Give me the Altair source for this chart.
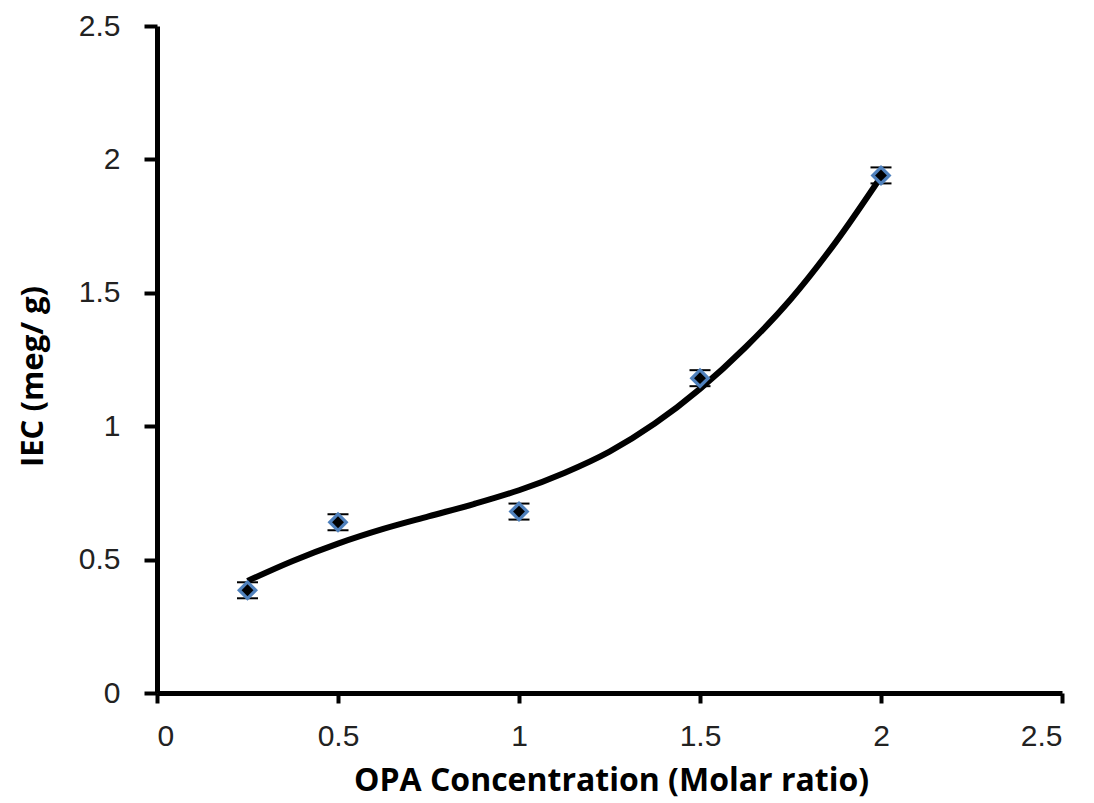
import altair as alt
import pandas as pd

# measured points
conc = [0.25, 0.5, 1.0, 1.5, 2.0]
iec = [0.385, 0.64, 0.68, 1.18, 1.94]
err = [0.03, 0.03, 0.03, 0.03, 0.03]

# trendline
trend_x = [0.25, 0.375, 0.5, 0.625, 0.75, 0.875, 1.0, 1.125, 1.25, 1.375, 1.5, 1.625, 1.75, 1.875, 2.0]
trend_y = [0.42, 0.495, 0.56, 0.615, 0.662, 0.708, 0.76, 0.825, 0.905, 1.01, 1.14, 1.295, 1.475, 1.69, 1.935]

pts = pd.DataFrame({"x": conc, "y": iec, "e": err})
pts["lo"] = pts["y"] - pts["e"]
pts["hi"] = pts["y"] + pts["e"]
trend = pd.DataFrame({"x": trend_x, "y": trend_y})

xs = alt.Scale(domain=[0, 2.5], nice=False, zero=False)
ys = alt.Scale(domain=[0, 2.5], nice=False, zero=False)

xax = alt.Axis(values=[0, 0.5, 1, 1.5, 2, 2.5], format="~g", grid=False,
               title="OPA Concentration (Molar ratio)", tickSize=10,
               labelPadding=18, titleX=454, titleY=97, titleAlign="center",
               titleBaseline="alphabetic", titleAnchor="start", titleFontSize=32)
yax = alt.Axis(values=[0, 0.5, 1, 1.5, 2, 2.5], format="~g", grid=False,
               title="IEC (meg/ g)", tickSize=13, labelPadding=24,
               titleX=-124, titleY=350, titleAlign="center", titleBaseline="middle",
               titleAnchor="start", titleFontSize=31)

base = alt.Chart(pts)

line = alt.Chart(trend).mark_line(color="black", strokeWidth=6, interpolate="monotone").encode(
    x=alt.X("x:Q", scale=xs, axis=xax),
    y=alt.Y("y:Q", scale=ys, axis=yax),
)

rules = base.mark_rule(color="black", strokeWidth=2).encode(
    x=alt.X("x:Q", scale=xs), y=alt.Y("lo:Q", scale=ys), y2="hi:Q")
cap_lo = base.mark_tick(color="black", thickness=2, size=21, orient="horizontal", opacity=1).encode(
    x=alt.X("x:Q", scale=xs), y=alt.Y("lo:Q", scale=ys))
cap_hi = base.mark_tick(color="black", thickness=2, size=21, orient="horizontal", opacity=1).encode(
    x=alt.X("x:Q", scale=xs), y=alt.Y("hi:Q", scale=ys))

outer = base.mark_point(shape="diamond", filled=True, color="#4F81BD", size=440, opacity=1).encode(
    x=alt.X("x:Q", scale=xs), y=alt.Y("y:Q", scale=ys))
inner = base.mark_point(shape="diamond", filled=True, color="black", size=140, opacity=1).encode(
    x=alt.X("x:Q", scale=xs), y=alt.Y("y:Q", scale=ys))

chart = alt.layer(line, rules, cap_lo, cap_hi, outer, inner).properties(
    width=905, height=667,
    background="white",
    autosize=alt.AutoSizeParams(type="none"),
    padding={"left": 157, "top": 26, "right": 32, "bottom": 110},
).configure_view(stroke=None).configure_axis(
    domainColor="black", domainWidth=5, tickColor="black", tickWidth=4,
    labelFont="Liberation Sans", labelFontSize=30, labelColor="#222222",
    titleFont="Open Sans", titleFontSize=30, titleFontWeight="bold", titleColor="black",
)

chart.save("out.html", embed_options={"renderer": "svg", "actions": False})
